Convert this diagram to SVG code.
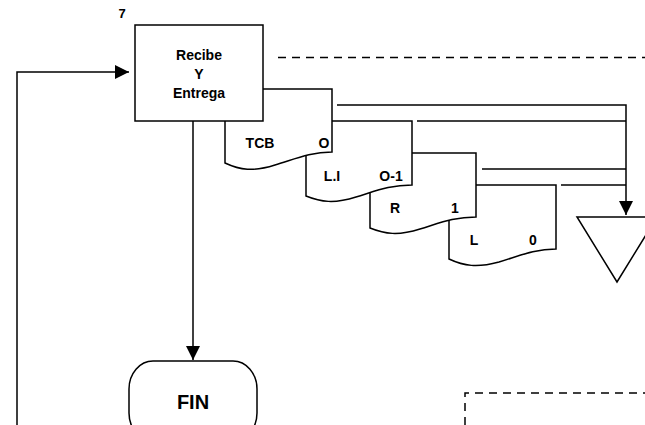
<svg xmlns="http://www.w3.org/2000/svg" width="645" height="425" viewBox="0 0 645 425">
<style>
.ln{fill:none;stroke:#000;stroke-width:1.5}
.sh{fill:#fff;stroke:#000;stroke-width:1.5}
.dash{fill:none;stroke:#000;stroke-width:1.5;stroke-dasharray:8 6}
text{font-family:"Liberation Sans",Arial,sans-serif;font-weight:bold;fill:#000}
.t{font-size:14px;text-anchor:middle}
.d{font-size:14px;text-anchor:middle}
</style>
<defs>
<marker id="ah" markerUnits="userSpaceOnUse" markerWidth="15" markerHeight="15" refX="14" refY="7" orient="auto">
<path d="M0,0 L14,7 L0,14 z" fill="#000"/>
</marker>
</defs>
<rect width="645" height="425" fill="#fff"/>
<g id="connectors">
<path class="ln" d="M17,425 V72 H129" marker-end="url(#ah)"/>
<path class="ln" d="M193,121 V360" marker-end="url(#ah)"/>
<path class="ln" d="M337,105 H626 V215" marker-end="url(#ah)"/>
<path class="ln" d="M417,121 H626"/>
<path class="ln" d="M482,169 H626"/>
<path class="ln" d="M561,185 H626"/>
<path class="dash" d="M278,57.5 H645"/>
<path class="dash" d="M465,425 V393 H645"/>
</g>
<g id="doc4">
<path class="sh" d="M449,185 H556 V249 C534,249 519,256 499,262 C477,268 464,266 449,259 Z"/>
<text class="d" x="474" y="245">L</text>
<text class="d" x="533" y="245">0</text>
</g>
<g id="doc3">
<path class="sh" d="M370,153 H476 V217 C454,217 440,223 420,229 C398,236 385,234 370,228 Z"/>
<text class="d" x="395" y="213">R</text>
<text class="d" x="455" y="213">1</text>
</g>
<g id="doc2">
<path class="sh" d="M306,121 H412 V185 C390,185 376,191 356,197 C334,204 321,202 306,196 Z"/>
<text class="d" x="332" y="181">L.I</text>
<text class="d" x="391" y="181">O-1</text>
</g>
<g id="doc1">
<path class="sh" d="M225,89 H332 V152 C310,152 295,159 275,165 C253,172 240,170 225,163 Z"/>
<text class="d" x="260" y="148">TCB</text>
<text class="d" x="324" y="148">O</text>
</g>
<g id="box">
<rect class="sh" x="135" y="25" width="128" height="96"/>
<text class="t" x="199" y="60">Recibe</text>
<text class="t" x="199" y="79">Y</text>
<text class="t" x="199" y="98">Entrega</text>
</g>
<text x="122" y="18" style="font-size:13px;text-anchor:middle">7</text>
<g id="fin">
<rect class="sh" x="129" y="361" width="128" height="80" rx="24" ry="28"/>
<text x="193" y="409" style="font-size:20px;text-anchor:middle">FIN</text>
</g>
<g id="triangle">
<path class="sh" d="M577,217 H657 L617,282 Z"/>
</g>
</svg>
